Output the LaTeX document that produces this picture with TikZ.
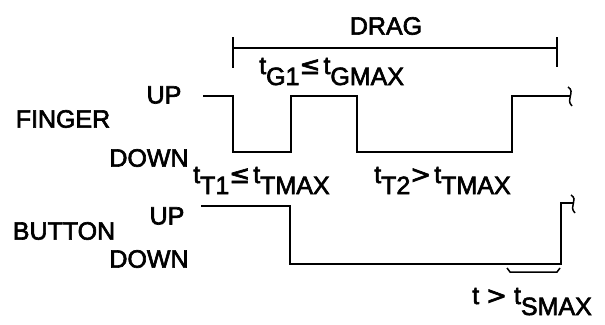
\documentclass[tikz,border=0pt]{standalone}
\usepackage{fontspec}
\setmainfont{Liberation Sans}[FakeBold=2.5]
\newfontfamily\symf{DejaVu Sans}[FakeBold=2.5]
\newcommand\tsb[1]{t\raisebox{-11pt}{#1}}
\tikzset{
  lbl/.style={font=\fontsize{25}{28}\selectfont, inner sep=0pt},
  wave/.style={line width=1.8pt, line join=miter},
  brk/.style={line width=1.5pt}
}
\begin{document}
\begin{tikzpicture}[x=1pt,y=-1pt]
\useasboundingbox (0,0) rectangle (605,324);
% DRAG bracket
\node[lbl] (drag) at (386,26) {DRAG};
\coordinate (dl) at (233,48);
\coordinate (dr) at (557,48);
\draw[brk] (233,37) -- (233,68);
\draw[brk] (557,37) -- (557,67);
\draw[brk] (dl) -- (dr);
\node[lbl, anchor=base west] (tg) at (259,74) {\tsb{G1}{\symf ≤}\kern3pt\tsb{GMAX}};
% labels
\node[lbl] (finger) at (63,119) {FINGER};
\node[lbl] (fup) at (164,95) {UP};
\node[lbl] (fdown) at (149,158) {DOWN};
\node[lbl] (button) at (64,231) {BUTTON};
\node[lbl] (bup) at (167,216) {UP};
\node[lbl] (bdown) at (149,259) {DOWN};
% finger waveform
\draw[wave] (203,96) -- (233,96) -- (233,152) -- (291,152) -- (291,96)
  -- (357,96) -- (357,152) -- (512,152) -- (512,96) -- (571,96);
\draw[brk] (568,87) .. controls (576,92) and (565,99) .. (572,106);
% button waveform
\draw[wave] (201,206) -- (290,206) -- (290,264) -- (561,264) -- (561,203) -- (573,203);
\draw[brk] (571,195) .. controls (579,200) and (568,206) .. (575,213);
% under brace
\draw[brk] (507,268) -- (510,272) -- (557,272) -- (560,268);
% time labels
\node[lbl, anchor=base west] (tt1) at (193,183) {\tsb{T1}{\symf ≤}\kern3pt\tsb{TMAX}};
\node[lbl, anchor=base west] (tt2) at (374,183) {\tsb{T2}{\symf >}\kern3pt\tsb{TMAX}};
\node[lbl, anchor=base west] (ts) at (472,304) {t {\symf >} \tsb{SMAX}};
\end{tikzpicture}
\end{document}
